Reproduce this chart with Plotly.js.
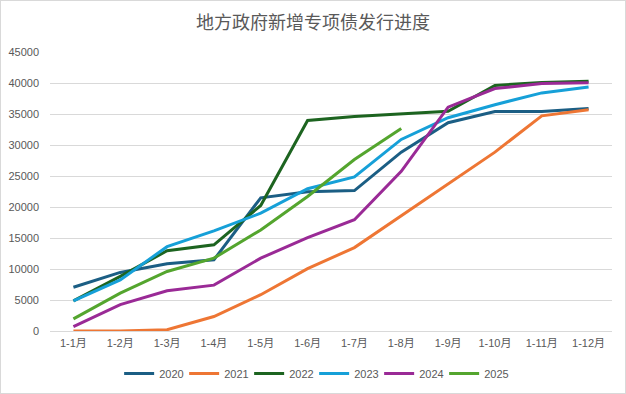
<!DOCTYPE html>
<html>
<head>
<meta charset="utf-8">
<script src="https://cdn.plot.ly/plotly-3.0.1.min.js"></script>
<style>
html,body{margin:0;padding:0;background:#fff;}
#chart{width:624px;height:392px;border:1px solid #d9d9d9;}
</style>
</head>
<body>
<div id="chart"></div>
<script>
const months = ["1-1月","1-2月","1-3月","1-4月","1-5月","1-6月","1-7月","1-8月","1-9月","1-10月","1-11月","1-12月"];
const years = ["2020","2021","2022","2023","2024","2025"];
const v2020 = [7060, 9450, 10850, 11480, 21480, 22450, 22650, 28850, 33600, 35400, 35400, 35900];
const v2021 = [0, 0, 200, 2340, 5850, 10050, 13450, 18600, 23750, 28850, 34700, 35700];
const v2022 = [4850, 8800, 12950, 13900, 20250, 33950, 34600, 35050, 35450, 39600, 40100, 40300];
const v2023 = [4850, 8250, 13600, 16150, 19000, 22950, 24850, 30900, 34400, 36500, 38400, 39350];
const v2024 = [700, 4250, 6500, 7400, 11750, 15050, 17950, 25750, 36100, 39100, 39900, 40050];
const v2025 = [1950, 6100, 9600, 11750, 16300, 21700, 27650, 32650];
const colors = ["#1b5e84", "#ee7634", "#1d6420", "#16a0d8", "#9a2a96", "#54a52e"];
const series = [v2020, v2021, v2022, v2023, v2024, v2025];

const traces = series.map((vals, i) => ({
  type: "scatter",
  mode: "lines",
  name: years[i],
  x: months.slice(0, vals.length),
  y: vals,
  line: {color: colors[i], width: 3}
}));

const layout = {
  width: 624, height: 392,
  paper_bgcolor: "#ffffff",
  plot_bgcolor: "#ffffff",
  margin: {l: 49, r: 13, t: 51, b: 62},
  font: {family: "Liberation Sans, Noto Sans CJK SC, sans-serif", color: "#595959", size: 11},
  title: {
    text: "地方政府新增专项债发行进度",
    font: {family: "Noto Sans CJK SC, sans-serif", size: 18, color: "#595959"},
    x: 0.5, xanchor: "center", y: 0.945, yanchor: "middle"
  },
  showlegend: true,
  legend: {
    orientation: "h", x: 0.47, xanchor: "center",
    yref: "container", y: 0.05, yanchor: "middle",
    font: {size: 11, color: "#595959"},
    entrywidth: 20, itemwidth: 30
  },
  xaxis: {
    type: "category",
    categoryorder: "array", categoryarray: months,
    range: [-0.5, 11.5],
    showgrid: false, zeroline: false,
    showline: false,
    ticks: "",
    ticklabelstandoff: 4,
    tickfont: {size: 11, color: "#595959"}
  },
  yaxis: {
    range: [0, 45000],
    tickvals: [0,5000,10000,15000,20000,25000,30000,35000,40000,45000],
    ticktext: ["0","5000","10000","15000","20000","25000","30000","35000","40000","45000"],
    showgrid: true, gridcolor: "#d9d9d9", gridwidth: 1,
    zeroline: true, zerolinecolor: "#d9d9d9", zerolinewidth: 1,
    showline: false, ticks: "",
    ticklabelstandoff: 10,
    tickfont: {size: 11, color: "#595959"}
  }
};

Plotly.newPlot("chart", traces, layout, {displayModeBar: false, staticPlot: true});
</script>
</body>
</html>
